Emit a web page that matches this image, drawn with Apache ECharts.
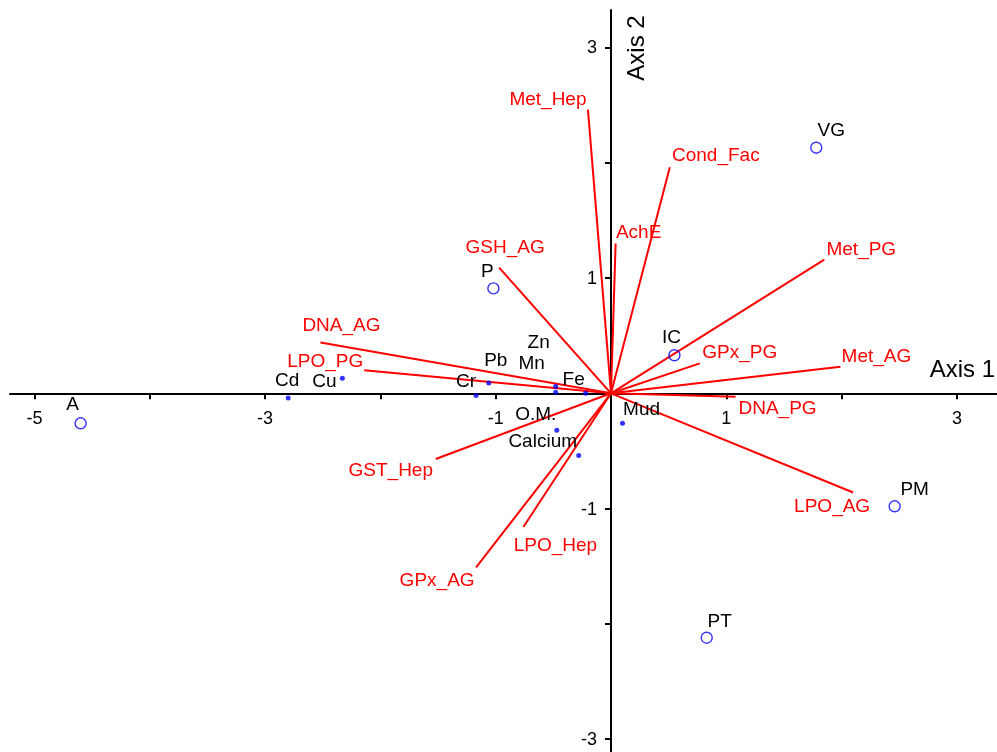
<!DOCTYPE html>
<html>
<head>
<meta charset="utf-8">
<script src="https://cdn.jsdelivr.net/npm/echarts@6/dist/echarts.min.js"></script>
<style>
  html, body { margin: 0; padding: 0; background: #fff; }
  #chart { width: 997px; height: 752px; }
</style>
</head>
<body>
<div id="chart"></div>
<script>
// Sampling sites (open circles)
const siteNames = ['A', 'P', 'IC', 'VG', 'PM', 'PT'];
const siteAxis1 = [-4.60, -1.02, 0.55, 1.78, 2.46, 0.83];
const siteAxis2 = [-0.26, 0.91, 0.33, 2.13, -0.98, -2.12];

// Sediment / environmental variables (filled dots)
const envNames = ['Cd', 'Cu', 'Cr', 'Pb', 'Zn', 'Mn', 'Fe', 'O.M.', 'Calcium', 'Mud'];
const envAxis1 = [-2.80, -2.33, -1.17, -1.06, -0.48, -0.48, -0.22, -0.47, -0.28, 0.10];
const envAxis2 = [-0.04, 0.13, -0.02, 0.09, 0.06, 0.01, 0.00, -0.32, -0.54, -0.26];

// Biomarker vectors (red lines from the origin)
const bioNames = ['Met_Hep', 'Cond_Fac', 'AchE', 'GSH_AG', 'Met_PG', 'Met_AG', 'DNA_AG',
  'LPO_PG', 'GPx_PG', 'DNA_PG', 'LPO_AG', 'GST_Hep', 'LPO_Hep', 'GPx_AG'];
const bioAxis1 = [-0.20, 0.51, 0.04, -0.97, 1.85, 1.99, -2.52, -2.14, 0.77, 1.08, 2.10, -1.52, -0.76, -1.17];
const bioAxis2 = [2.46, 1.96, 1.30, 1.09, 1.16, 0.23, 0.44, 0.20, 0.26, -0.03, -0.86, -0.57, -1.16, -1.51];

// Axis ticks and labels
const xTicks = [-5, -4, -3, -2, -1, 1, 2, 3];
const xTickLabels = [-5, -3, -1, 1, 3];
const yTicks = [-3, -2, -1, 1, 2, 3];
const yTickLabels = [-3, -1, 1, 3];

// Label placement (pixel offsets of each label centre from its mark)
const siteLabelOffset = [[-8, -19], [-6, -17], [-3, -17], [15, -17], [20, -17], [13, -16]];
const envLabelOffset = [[-1, -17], [-18, 3], [-10, -14], [7, -22], [-17, -44], [-24, -28],
  [-12, -14], [-21, -15], [-36, -14], [19, -14]];
const bioLabelOffset = [[-40, -10], [46, -12], [23, -11], [6, -20], [37, -10], [36, -10],
  [21, -17], [-39, -8], [40, -11], [42, 12], [-21, 14], [-45, 12], [32, 19], [-39, 13]];

const FONT = '"Liberation Sans", Arial, Helvetica, sans-serif';

const chart = echarts.init(document.getElementById('chart'));

function pairs(xs, ys) {
  return xs.map((x, i) => [x, ys[i]]);
}

// Text-only series: one label per point, placed at the point plus an offset
function labelSeries(names, xs, ys, offsets, color, opts) {
  opts = opts || {};
  return {
    type: 'custom',
    clip: false,
    silent: true,
    z: 5,
    encode: { x: 0, y: 1 },
    data: pairs(xs, ys),
    renderItem: function (params, api) {
      const p = api.coord([api.value(0), api.value(1)]);
      const off = Array.isArray(offsets[0]) ? offsets[params.dataIndex] : offsets;
      return {
        type: 'text',
        x: p[0] + off[0],
        y: p[1] + off[1],
        style: {
          text: String(names[params.dataIndex]),
          fill: color,
          fontSize: opts.fontSize || 19,
          fontFamily: FONT,
          align: opts.align || 'center',
          verticalAlign: 'middle'
        }
      };
    }
  };
}

chart.setOption({
  animation: false,
  backgroundColor: '#ffffff',
  grid: { left: 10, right: 0, top: 10, bottom: 0, outerBoundsMode: 'none' },
  xAxis: {
    type: 'value',
    min: -5.2125,
    max: 3.3478,
    axisLine: { onZero: true, lineStyle: { color: '#000', width: 2 } },
    axisTick: { show: true, length: 6, customValues: xTicks, lineStyle: { color: '#000', width: 2 } },
    axisLabel: { show: false },
    splitLine: { show: false }
  },
  yAxis: {
    type: 'value',
    min: -3.1110,
    max: 3.3244,
    axisLine: { onZero: true, lineStyle: { color: '#000', width: 2 } },
    axisTick: { show: true, length: 6, customValues: yTicks, lineStyle: { color: '#000', width: 2 } },
    axisLabel: { show: false },
    splitLine: { show: false }
  },
  graphic: [
    {
      type: 'text', x: 995, y: 370,
      style: { text: 'Axis 1', fill: '#000', fontSize: 24, fontFamily: FONT, align: 'right', verticalAlign: 'middle' }
    },
    {
      type: 'text', x: 637, y: 48, rotation: Math.PI / 2,
      style: { text: 'Axis 2', fill: '#000', fontSize: 24, fontFamily: FONT, align: 'center', verticalAlign: 'middle' }
    }
  ],
  series: [
    // tick labels along Axis 1 and Axis 2
    labelSeries(xTickLabels, xTickLabels, xTickLabels.map(() => 0), [0, 26], '#000000', { fontSize: 18 }),
    labelSeries(yTickLabels, yTickLabels.map(() => 0), yTickLabels, [-14, 1], '#000000', { fontSize: 18, align: 'right' }),
    {
      type: 'custom',
      clip: false,
      silent: true,
      encode: { x: 0, y: 1 },
      data: pairs(bioAxis1, bioAxis2),
      renderItem: function (params, api) {
        const o = api.coord([0, 0]);
        const p = api.coord([api.value(0), api.value(1)]);
        return {
          type: 'line',
          shape: { x1: o[0], y1: o[1], x2: p[0], y2: p[1] },
          style: { stroke: '#ff0000', lineWidth: 2 }
        };
      }
    },
    labelSeries(bioNames, bioAxis1, bioAxis2, bioLabelOffset, '#ff0000'),
    {
      type: 'scatter',
      data: pairs(envAxis1, envAxis2),
      symbol: 'circle',
      symbolSize: 5,
      itemStyle: { color: '#0000ff' },
      silent: true
    },
    labelSeries(envNames, envAxis1, envAxis2, envLabelOffset, '#000000'),
    {
      type: 'scatter',
      data: pairs(siteAxis1, siteAxis2),
      symbol: 'circle',
      symbolSize: 11,
      itemStyle: { color: 'rgba(0,0,0,0)', borderColor: '#0000ff', borderWidth: 1.4 },
      silent: true
    },
    labelSeries(siteNames, siteAxis1, siteAxis2, siteLabelOffset, '#000000')
  ]
});
</script>
</body>
</html>
